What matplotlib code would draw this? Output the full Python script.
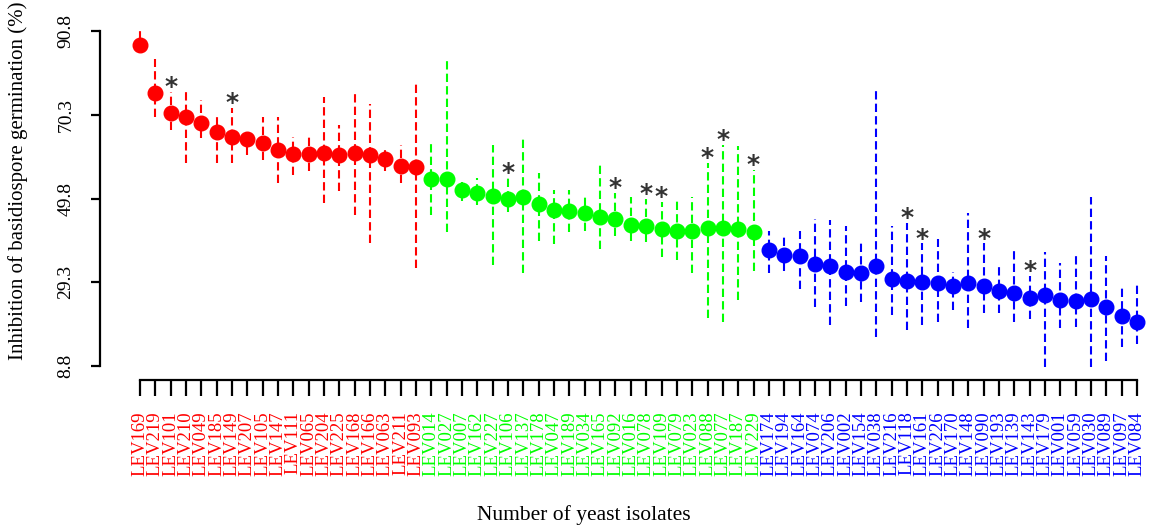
import matplotlib
matplotlib.use("Agg")
import matplotlib.pyplot as plt

plt.rcParams['font.family'] = ['Liberation Serif', 'DejaVu Serif']

isolates = ["LEV169","LEV219","LEV101","LEV210","LEV049","LEV185","LEV149","LEV207","LEV105","LEV147",
            "LEV111","LEV065","LEV204","LEV225","LEV168","LEV166","LEV063","LEV211","LEV093",
            "LEV014","LEV027","LEV007","LEV162","LEV227","LEV106","LEV137","LEV178","LEV047","LEV189",
            "LEV034","LEV165","LEV092","LEV016","LEV078","LEV109","LEV079","LEV023","LEV088","LEV077",
            "LEV187","LEV229",
            "LEV174","LEV194","LEV164","LEV074","LEV206","LEV002","LEV154","LEV038","LEV216","LEV118",
            "LEV161","LEV226","LEV170","LEV148","LEV090","LEV193","LEV139","LEV143","LEV179","LEV001",
            "LEV059","LEV030","LEV089","LEV097","LEV084"]
group_sizes = [19, 22, 25]
group_colors = ["#FF0000", "#00FF00", "#0000FF"]

inhibition = [87.4, 75.7, 70.8, 69.7, 68.2, 66.0, 64.8, 64.3, 63.5, 61.7,
              60.7, 60.6, 60.9, 60.4, 61.0, 60.4, 59.4, 57.8, 57.6,
              54.5, 54.6, 52.0, 51.2, 50.5, 49.7, 50.2, 48.5, 47.0, 46.7,
              46.2, 45.3, 44.7, 43.3, 43.1, 42.3, 41.9, 41.9, 42.5, 42.7,
              42.3, 41.5,
              37.2, 36.0, 35.7, 33.7, 33.3, 31.9, 31.5, 33.3, 30.0, 29.6,
              29.3, 29.0, 28.5, 29.2, 28.5, 27.2, 26.7, 25.5, 26.3, 24.9,
              24.8, 25.2, 23.3, 21.1, 19.6]
upper = [90.9, 83.9, 75.8, 76.8, 73.9, 70.8, 71.9, 65.8, 69.8, 69.8,
         64.9, 64.9, 74.7, 67.8, 75.8, 72.9, 61.7, 62.9, 77.8,
         63.1, 83.5, 53.8, 54.9, 62.9, 54.9, 64.9, 56.0, 51.9, 51.9,
         50.2, 58.4, 51.2, 50.2, 49.8, 49.0, 49.2, 50.1, 58.6, 62.9,
         62.7, 56.8,
         41.8, 40.9, 41.9, 44.9, 44.5, 43.1, 38.8, 76.2, 43.1, 43.9,
         38.8, 39.8, 31.9, 46.2, 38.8, 33.9, 37.2, 30.8, 36.8, 34.1,
         36.8, 50.2, 35.7, 27.8, 28.8]
lower = [85.7, 69.7, 66.6, 58.6, 64.5, 58.6, 58.6, 60.4, 59.2, 53.7,
         55.5, 56.6, 48.6, 51.6, 45.8, 38.8, 56.6, 53.7, 32.7,
         45.8, 41.5, 49.2, 48.2, 33.5, 46.6, 31.6, 39.5, 38.6, 41.5,
         41.8, 37.4, 40.5, 39.5, 39.2, 35.5, 34.7, 31.6, 20.5, 19.6,
         25.0, 32.1,
         31.5, 32.1, 27.6, 23.3, 18.8, 23.5, 24.5, 15.8, 21.4, 17.6,
         18.8, 19.6, 22.5, 18.0, 21.7, 21.7, 19.6, 20.2, 8.6, 18.0,
         18.4, 8.6, 10.1, 13.5, 14.3]
significant = ["LEV101","LEV149","LEV106","LEV092","LEV078","LEV109","LEV088","LEV077",
               "LEV229","LEV118","LEV161","LEV090","LEV143"]
yticks = [8.8, 29.3, 49.8, 70.3, 90.8]

W, H = 1149, 528
fig = plt.figure(figsize=(W/100, H/100), dpi=100)
ax = fig.add_axes([140/W, 1-366/H, (1137-140)/W, (366-31)/H])

colors = []
for c, n in zip(group_colors, group_sizes):
    colors += [c]*n
xs = list(range(1, len(isolates)+1))

for x, m, lo, hi, c in zip(xs, inhibition, lower, upper, colors):
    ax.plot([x, x], [lo, hi], color=c, lw=1.5, dashes=(4, 2), clip_on=False, zorder=2)
    ax.plot([x], [m], 'o', color=c, ms=10.5, mec=c, clip_on=False, zorder=3)
    if isolates[x-1] in significant:
        ax.annotate('*', (x, hi), xytext=(0, -1.5), textcoords='offset points',
                    ha='center', va='baseline', fontsize=18, fontweight='bold',
                    color='#333333', family='DejaVu Sans', clip_on=False)

ax.set_xlim(1, len(isolates))
ax.set_ylim(8.8, 90.8)
for s in ['top', 'right']:
    ax.spines[s].set_visible(False)
ax.spines['left'].set_position(('outward', 40*0.72))
ax.spines['bottom'].set_position(('outward', 14*0.72))
ax.spines['left'].set_bounds(8.8, 90.8)
ax.spines['bottom'].set_bounds(1, len(isolates))
ax.spines['left'].set_linewidth(1.6)
ax.spines['bottom'].set_linewidth(1.6)

ax.set_yticks(yticks)
ax.set_yticklabels([f"{v}" for v in yticks], rotation=90, va='center', fontsize=14)
ax.tick_params(axis='y', length=6.5, width=1.6, pad=12)
ax.set_xticks(xs)
ax.set_xticklabels(isolates, rotation=90, fontsize=13.5)
ax.tick_params(axis='x', length=11.5, width=1.6, pad=11)
for lbl, c in zip(ax.get_xticklabels(), colors):
    lbl.set_color(c)

fig.text(18/W, 1-181/H, "Inhibition of basidiospore germination (%)", rotation=90,
         ha='center', va='center', fontsize=15)
fig.text(584/W, 1-515/H, "Number of yeast isolates", ha='center', va='center', fontsize=15.5)

fig.savefig("out.png", dpi=100)
